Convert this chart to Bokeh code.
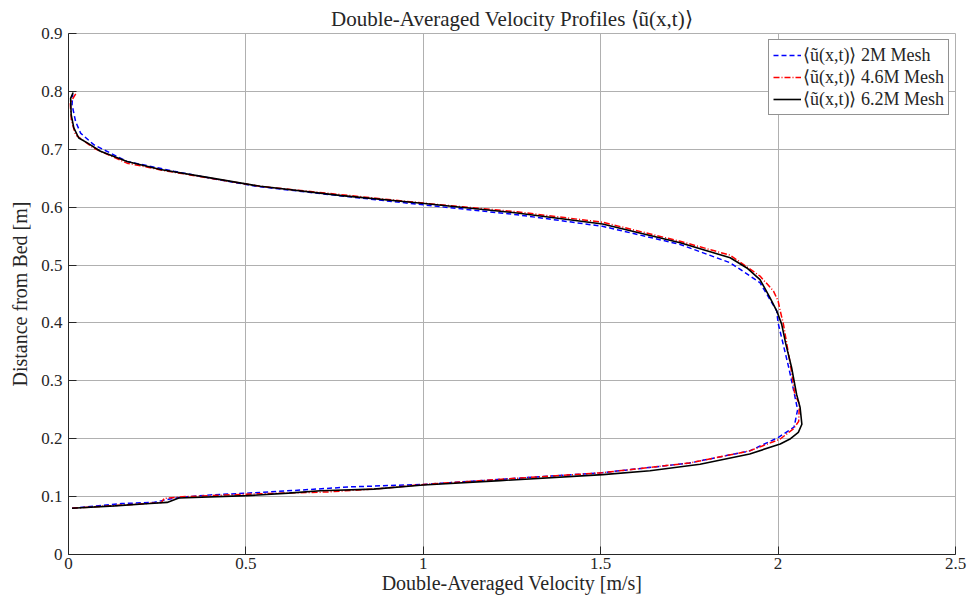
from bokeh.plotting import figure
from bokeh.models import Legend, LegendItem, FixedTicker, Range1d
from bokeh.embed import file_html
from bokeh.resources import INLINE

# 2M mesh (blue dashed)
z_2m = [0.080, 0.088, 0.090, 0.0977, 0.103, 0.106, 0.1115, 0.117, 0.121, 0.130, 0.141, 0.158,
        0.179, 0.202, 0.220, 0.250, 0.280, 0.323, 0.400, 0.421, 0.4695, 0.504, 0.5356, 0.567,
        0.587, 0.604, 0.620, 0.636, 0.650, 0.662, 0.679, 0.708, 0.728, 0.748, 0.777, 0.795]
u_2m = [0.010, 0.15, 0.24, 0.30, 0.40, 0.503, 0.66, 0.80, 1.0, 1.22, 1.5, 1.75,
        1.92, 2.0, 2.045, 2.055, 2.045, 2.03, 2.0, 1.996, 1.949, 1.865, 1.724, 1.505,
        1.264, 1.0, 0.76, 0.53, 0.40, 0.297, 0.165, 0.071, 0.034, 0.020, 0.010, 0.012]

# 4.6M mesh (red dash-dot)
z_46m = [0.080, 0.088, 0.090, 0.097, 0.100, 0.1046, 0.108, 0.114, 0.121, 0.130, 0.141, 0.158,
         0.179, 0.1995, 0.217, 0.230, 0.260, 0.277, 0.323, 0.398, 0.421, 0.438, 0.455, 0.481,
         0.517, 0.541, 0.574, 0.592, 0.607, 0.636, 0.650, 0.662, 0.676, 0.702, 0.725, 0.750,
         0.780, 0.798]
u_46m = [0.010, 0.22, 0.262, 0.27, 0.33, 0.52, 0.73, 0.88, 1.0, 1.22, 1.5, 1.75,
         1.92, 2.006, 2.043, 2.058, 2.060, 2.047, 2.036, 2.015, 2.006, 2.0, 1.987, 1.949,
         1.865, 1.724, 1.505, 1.264, 1.0, 0.541, 0.40, 0.28, 0.165, 0.071, 0.020, 0.008,
         0.005, 0.0225]

# 6.2M mesh (black solid)
z_62m = [0.080, 0.084, 0.088, 0.090, 0.0977, 0.1017, 0.106, 0.110, 0.113, 0.120, 0.1276, 0.138,
         0.1448, 0.156, 0.1736, 0.191, 0.200, 0.211, 0.225, 0.254, 0.277, 0.323, 0.363, 0.398,
         0.421, 0.4437, 0.475, 0.495, 0.5126, 0.5385, 0.571, 0.590, 0.6064, 0.620, 0.636, 0.6506,
         0.665, 0.679, 0.6966, 0.711, 0.7195, 0.737, 0.760, 0.788, 0.798]
u_62m = [0.010, 0.13, 0.23, 0.278, 0.311, 0.503, 0.62, 0.71, 0.86, 1.0, 1.217, 1.506,
         1.639, 1.78, 1.92, 2.006, 2.035, 2.057, 2.067, 2.062, 2.052, 2.038, 2.022, 2.010,
         1.996, 1.977, 1.949, 1.912, 1.865, 1.724, 1.505, 1.264, 1.003, 0.77, 0.541, 0.40,
         0.259, 0.165, 0.090, 0.053, 0.029, 0.015, 0.0075, 0.006, 0.013]

x_ticks = [0, 0.5, 1, 1.5, 2, 2.5]
y_ticks = [0, 0.1, 0.2, 0.3, 0.4, 0.5, 0.6, 0.7, 0.8, 0.9]
labels = ["\u27e8\u0169(x,t)\u27e9 2M Mesh", "\u27e8\u0169(x,t)\u27e9 4.6M Mesh", "\u27e8\u0169(x,t)\u27e9 6.2M Mesh"]

FONT = "Liberation Serif"

p = figure(width=968, height=603, output_backend="svg", toolbar_location=None,
           x_range=Range1d(0, 2.5), y_range=Range1d(0, 0.9),
           min_border_left=68, min_border_right=13, min_border_top=33, min_border_bottom=49,
           title="Double-Averaged Velocity Profiles \u27e8\u0169(x,t)\u27e9")

p.title.align = "center"
p.title.vertical_align = "top"
p.title.text_font = FONT
p.title.text_font_style = "normal"
p.title.text_font_size = "21px"
p.title.text_color = "#262626"
p.title.standoff = 1

r1 = p.line(u_2m, z_2m, line_color="#0000ff", line_width=1.5, line_dash="5 3")
r2 = p.line(u_46m, z_46m, line_color="#ff0000", line_width=1.5, line_dash="6 2 1 2")
r3 = p.line(u_62m, z_62m, line_color="#000000", line_width=1.6)

for ax in (p.xaxis[0], p.yaxis[0]):
    ax.major_tick_in = 8
    ax.major_tick_out = 0
    ax.minor_tick_in = 0
    ax.minor_tick_out = 0
    ax.axis_line_color = "#262626"
    ax.major_tick_line_color = "#262626"
    ax.major_label_text_font = FONT
    ax.major_label_text_font_size = "17px"
    ax.major_label_text_color = "#262626"
    ax.axis_label_text_font = FONT
    ax.axis_label_text_font_size = "20px"
    ax.axis_label_text_font_style = "normal"
    ax.axis_label_text_color = "#262626"

p.xaxis.ticker = FixedTicker(ticks=x_ticks)
p.yaxis.ticker = FixedTicker(ticks=y_ticks)
p.xaxis.major_label_overrides = {0: "0", 0.5: "0.5", 1: "1", 1.5: "1.5", 2: "2", 2.5: "2.5"}
p.yaxis.major_label_overrides = {0: "0"}
p.xaxis.axis_label = "Double-Averaged Velocity [m/s]"
p.yaxis.axis_label = "Distance from Bed [m]"
p.xaxis.major_label_standoff = 3
p.xaxis.axis_label_standoff = 0
p.yaxis.major_label_standoff = 6
p.yaxis.axis_label_standoff = 7

p.xgrid.grid_line_color = "#b0b0b0"
p.ygrid.grid_line_color = "#b0b0b0"
p.xgrid.grid_line_width = 1
p.ygrid.grid_line_width = 1
p.outline_line_color = "#b0b0b0"
p.outline_line_width = 1

legend = Legend(items=[LegendItem(label=labels[0], renderers=[r1]),
                       LegendItem(label=labels[1], renderers=[r2]),
                       LegendItem(label=labels[2], renderers=[r3])],
                location="top_right", margin=6)
legend.label_text_font = FONT
legend.label_text_font_size = "18px"
legend.label_text_color = "#262626"
legend.label_standoff = 2
legend.label_height = 20
legend.glyph_height = 20
legend.glyph_width = 28
legend.spacing = 0
legend.padding = 4
legend.border_line_color = "#262626"
legend.border_line_width = 1
legend.background_fill_color = "white"
legend.background_fill_alpha = 1
p.add_layout(legend)

open("out.html", "w").write(file_html(p, INLINE))
